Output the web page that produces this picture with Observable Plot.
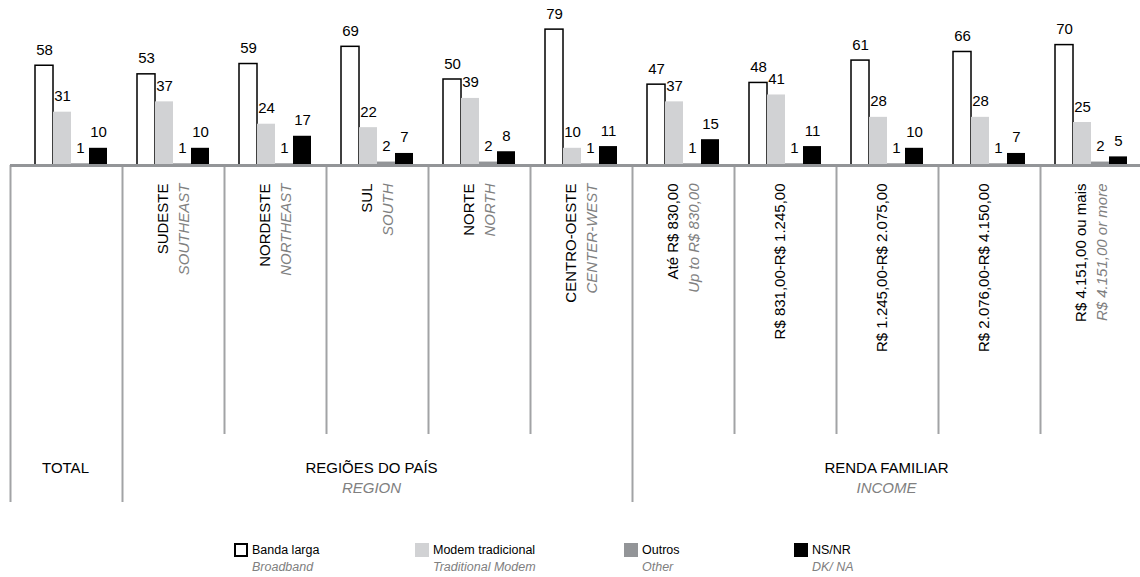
<!DOCTYPE html>
<html>
<head>
<meta charset="utf-8">
<script src="https://cdn.jsdelivr.net/npm/d3@7"></script>
<script src="https://cdn.jsdelivr.net/npm/@observablehq/plot@0.6"></script>
<style>
  html, body { margin: 0; padding: 0; background: #fff; }
  body { width: 1140px; height: 577px; overflow: hidden; font-family: "Liberation Sans", Arial, sans-serif; }
  #chart svg { display: block; }
  #legend { position: relative; width: 1140px; height: 47px; }
  .sw { position: absolute; top: 13px; width: 14px; height: 14px; box-sizing: border-box; }
  .lt { position: absolute; top: 12px; font-size: 12.5px; line-height: 17px; color: #000; white-space: nowrap; }
  .lt i { color: #808080; display: block; }
</style>
</head>
<body>
<div id="chart"></div>
<div id="legend"></div>
<script>
// ---- data ----
const groups = ["TOTAL", "SUDESTE", "NORDESTE", "SUL", "NORTE", "CENTRO-OESTE",
  "Até R$ 830,00", "R$ 831,00-R$ 1.245,00", "R$ 1.245,00-R$ 2.075,00",
  "R$ 2.076,00-R$ 4.150,00", "R$ 4.151,00 ou mais"];
const groupsEn = ["", "SOUTHEAST", "NORTHEAST", "SOUTH", "NORTH", "CENTER-WEST",
  "Up to R$ 830,00", "", "", "", "R$ 4.151,00 or more"];
const series = ["Banda larga", "Modem tradicional", "Outros", "NS/NR"];
const seriesEn = ["Broadband", "Traditional Modem", "Other", "DK/ NA"];
const bandaLarga       = [58, 53, 59, 69, 50, 79, 47, 48, 61, 66, 70];
const modemTradicional = [31, 37, 24, 22, 39, 10, 37, 41, 28, 28, 25];
const outros           = [1, 1, 1, 2, 2, 1, 1, 1, 1, 1, 2];
const nsnr             = [10, 10, 17, 7, 8, 11, 15, 11, 10, 7, 5];
const sectionLabels = ["TOTAL", "REGIÕES DO PAÍS", "RENDA FAMILIAR"];
const sectionEn     = ["", "REGION", "INCOME"];
const sectionCenter = ["TOTAL", "SUL", "R$ 1.245,00-R$ 2.075,00"];
const sectionStart  = ["TOTAL", "SUDESTE", "Até R$ 830,00"];

// ---- build table ----
const valuesBySeries = [bandaLarga, modemTradicional, outros, nsnr];
const rows = [];
groups.forEach((g, gi) => series.forEach((s, si) => rows.push({group: g, series: s, value: valuesBySeries[si][gi]})));
const catLabels = groups.map((g, i) => ({group: g, pt: g, en: groupsEn[i]})).filter(d => d.group !== "TOTAL");
const twoLine = catLabels.filter(d => d.en);
const oneLine = catLabels.filter(d => !d.en);
const sections = sectionLabels.map((l, i) => ({label: l, en: sectionEn[i], center: sectionCenter[i]}));
const shortDividers = groups.filter(g => !sectionStart.includes(g));
const longDividers = sectionStart.filter(g => g !== "TOTAL");

const colors = ["#ffffff", "#d1d2d4", "#939598", "#000000"];
const FX0 = 20, FX1 = 1142;
const FW = (FX1 - FX0) / groups.length; // facet band width
const GRAY = "#a2a3a5";
const FONT = "'Liberation Sans', Arial, sans-serif";

const plot = Plot.plot({
  width: 1140,
  height: 530,
  marginLeft: FX0,
  marginRight: 0,
  marginTop: 165,
  marginBottom: 96,
  style: {fontFamily: FONT, background: "#fff"},
  fx: {domain: groups, range: [FX0, FX1], padding: 0, axis: null},
  x: {domain: series, paddingInner: 0, paddingOuter: 0.8, axis: null},
  y: {domain: [0, 80], range: [165, 27.4], axis: null},
  color: {domain: series, range: colors},
  marks: [
    // dividers
    Plot.ruleX(shortDividers, {fx: d => d, x: null, dx: -FW / 2, stroke: GRAY, strokeWidth: 2}),
    Plot.ruleX(longDividers, {fx: d => d, x: null, dx: -FW / 2, stroke: GRAY, strokeWidth: 2, insetBottom: -68}),
    Plot.ruleX(["TOTAL"], {fx: d => d, x: null, dx: -FW / 2 - 10, stroke: GRAY, strokeWidth: 2, insetBottom: -68}),
    // bars
    Plot.barY(rows, {fx: "group", x: "series", y: "value", fill: "series",
      stroke: d => d.series === "Banda larga" ? "#000" : "none", strokeWidth: 1.5}),
    // baseline
    Plot.ruleY([0], {stroke: "#939598", strokeWidth: 3}),
    Plot.ruleY(["TOTAL"], {fx: d => d, y: () => 0, stroke: "#939598", strokeWidth: 3, insetLeft: -10}),
    // value labels
    Plot.text(rows, {fx: "group", x: "series", y: "value", text: d => String(d.value),
      lineAnchor: "bottom", dy: -11, fontSize: 15, fill: "#000"}),
    // category labels (rotated)
    Plot.text(twoLine, {fx: "group", text: "pt", frameAnchor: "top", rotate: -90,
      textAnchor: "end", lineAnchor: "middle", dy: 18, dx: -10, fontSize: 15, fill: "#000"}),
    Plot.text(twoLine, {fx: "group", text: "en", frameAnchor: "top", rotate: -90,
      textAnchor: "end", lineAnchor: "middle", dy: 18, dx: 11, fontSize: 15, fill: "#808080", fontStyle: "italic"}),
    Plot.text(oneLine, {fx: "group", text: "pt", frameAnchor: "top", rotate: -90,
      textAnchor: "end", lineAnchor: "middle", dy: 18, dx: -5, fontSize: 15, fill: "#000"}),
    // section labels
    Plot.text(sections.slice(0, 2), {fx: "center", text: "label", frameAnchor: "bottom", dy: 34,
      lineAnchor: "middle", fontSize: 15, fill: "#000", dx: -6}),
    Plot.text(sections.slice(0, 2), {fx: "center", text: "en", frameAnchor: "bottom", dy: 54,
      lineAnchor: "middle", fontSize: 15, fill: "#808080", fontStyle: "italic", dx: -6}),
    Plot.text(sections.slice(2), {fx: "center", text: "label", frameAnchor: "bottom", dy: 34,
      lineAnchor: "middle", fontSize: 15, fill: "#000", dx: -1}),
    Plot.text(sections.slice(2), {fx: "center", text: "en", frameAnchor: "bottom", dy: 54,
      lineAnchor: "middle", fontSize: 15, fill: "#808080", fontStyle: "italic", dx: -1})
  ]
});
document.getElementById("chart").appendChild(plot);

// ---- legend ----
const legend = document.getElementById("legend");
const legendX = [234, 415, 624, 794];
series.forEach((s, i) => {
  const sw = document.createElement("div");
  sw.className = "sw";
  sw.style.left = legendX[i] + "px";
  sw.style.background = colors[i];
  if (i === 0) sw.style.border = "2px solid #000";
  legend.appendChild(sw);
  const t = document.createElement("div");
  t.className = "lt";
  t.style.left = (legendX[i] + 18) + "px";
  t.textContent = s;
  const en = document.createElement("i");
  en.textContent = seriesEn[i];
  t.appendChild(en);
  legend.appendChild(t);
});
</script>
</body>
</html>
